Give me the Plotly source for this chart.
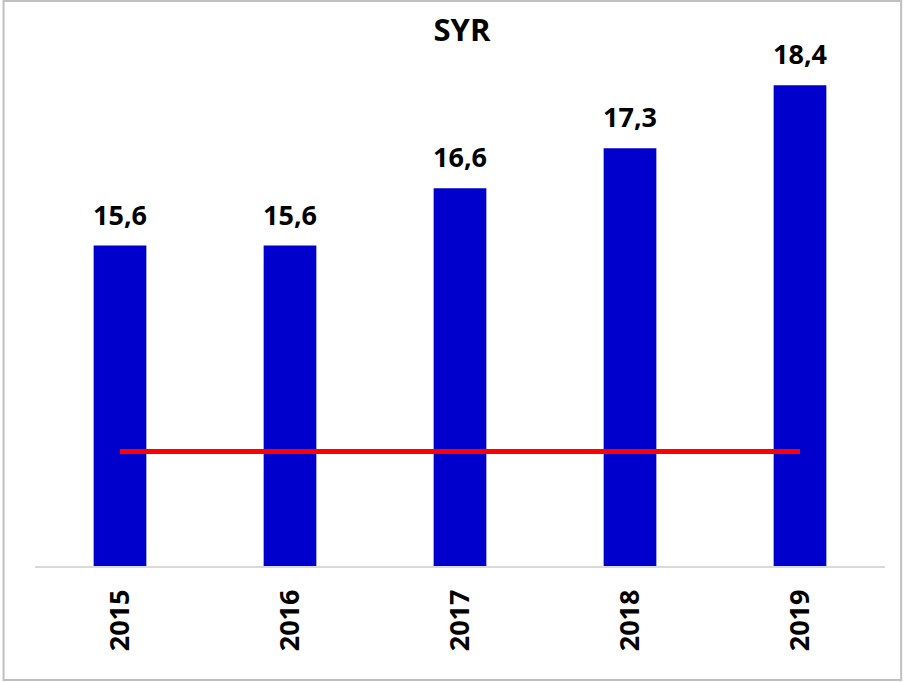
import plotly.graph_objects as go

years = ["2015", "2016", "2017", "2018", "2019"]
values = [15.6, 15.6, 16.6, 17.3, 18.4]
labels = ["15,6", "15,6", "16,6", "17,3", "18,4"]
ref_line = [12, 12, 12, 12, 12]

FONT = "Open Sans, sans-serif"

fig = go.Figure()

fig.add_trace(go.Bar(
    x=years, y=values,
    marker=dict(color="#0000CC", line=dict(width=0)),
    width=0.31,
    hoverinfo="skip",
))

fig.add_trace(go.Scatter(
    x=years, y=ref_line,
    mode="lines",
    line=dict(color="#FF0000", width=5),
    hoverinfo="skip",
))

# value labels above the bars (x given as category index)
for i, (v, lab) in enumerate(zip(values, labels)):
    fig.add_annotation(
        x=i, y=v, text=f"<b>{lab}</b>",
        showarrow=False, yanchor="bottom", yshift=11,
        font=dict(family=FONT, size=27, color="#000000"),
    )

# outer frame round the whole chart
fig.add_shape(
    type="rect", xref="paper", yref="paper",
    x0=-0.037, x1=1.019, y0=-0.2214, y1=1.097,
    line=dict(color="#BFBFBF", width=2),
)

fig.update_layout(
    width=904, height=682,
    margin=dict(l=35, r=19, t=51, b=116),
    paper_bgcolor="white", plot_bgcolor="white",
    showlegend=False,
    title=dict(
        text="<b>SYR</b>", x=0.511, xanchor="center",
        y=0.956, yanchor="middle",
        font=dict(family=FONT, size=31, color="#000000"),
    ),
    xaxis=dict(
        type="category",
        showline=True, linecolor="#D9D9D9", linewidth=1.5,
        showgrid=False, ticks="",
        tickangle=-90, ticklabelstandoff=11,
        tickfont=dict(family=FONT, size=27, color="#000000"),
        tickprefix="<b>", ticksuffix="</b>",
    ),
    yaxis=dict(
        range=[10, 19], visible=False, showgrid=False, zeroline=False,
    ),
)

fig.write_html(
    "out.html",
    config={"displayModeBar": False},
    post_script="document.body.style.margin='0';",
)
